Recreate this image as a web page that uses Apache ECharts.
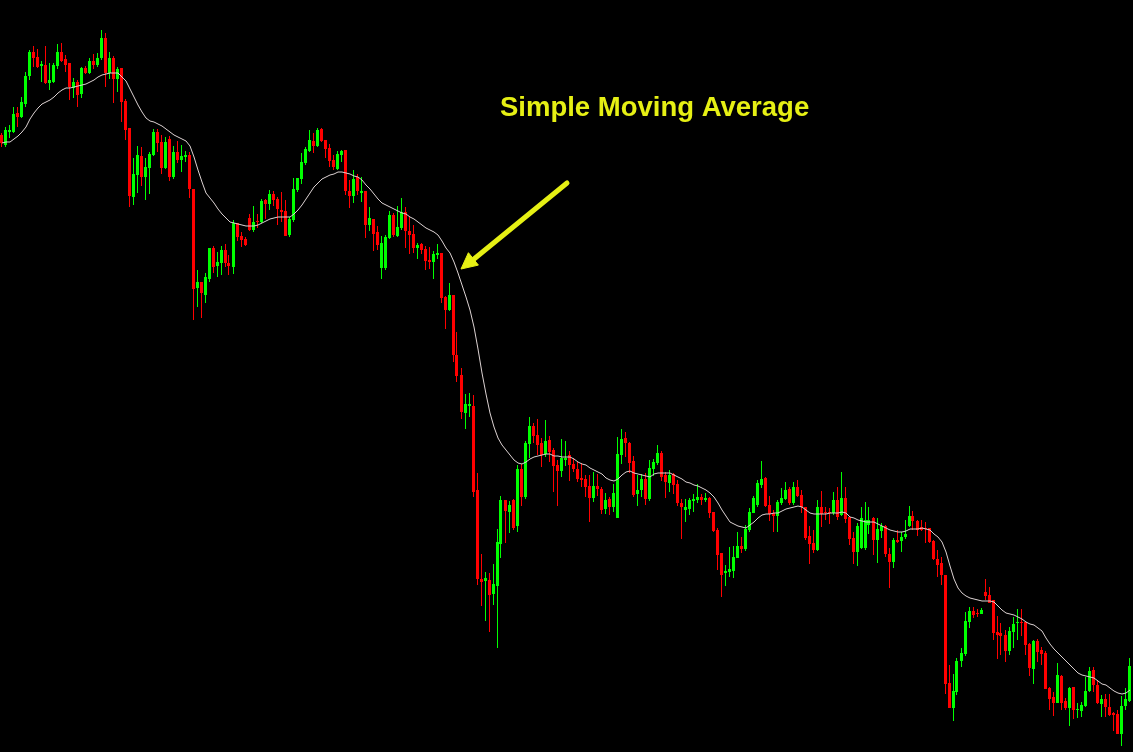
<!DOCTYPE html>
<html><head><meta charset="utf-8">
<script src="https://cdn.jsdelivr.net/npm/echarts@6/dist/echarts.min.js"></script>
<style>html,body{margin:0;padding:0;background:#000;}#c{width:1133px;height:752px;}</style>
</head><body><div id="c"></div>
<script>
const opens = [865,855,868,868,887,883,896,924,948,943,934,935,917,918,934,948,941,937,912,918,906,932,927,939,935,942,962,927,942,921,932,899,872,803,825,844,823,832,845,868,858,832,861,823,848,840,843,845,811,712,718,705,721,752,734,737,750,737,733,777,764,761,782,770,779,778,800,796,806,801,790,789,765,780,810,821,837,849,859,854,871,860,852,840,831,845,850,809,804,823,807,809,775,781,768,732,732,762,785,764,772,788,769,766,752,756,751,740,738,745,747,703,690,705,645,625,587,594,594,510,421,419,420,406,414,456,500,488,500,474,531,503,556,574,565,557,546,560,550,535,529,540,545,536,531,522,521,514,502,514,511,491,501,493,482,545,562,557,539,506,510,521,501,531,537,547,525,517,526,516,497,490,491,499,500,503,500,502,488,470,447,427,428,429,442,454,451,470,487,495,515,522,495,487,484,497,501,511,497,513,505,493,464,457,450,493,488,488,487,500,485,502,483,462,448,452,452,475,482,460,469,474,446,438,460,459,463,474,484,479,473,472,472,459,441,437,425,317,292,308,339,346,378,389,387,386,408,405,400,368,367,365,349,368,377,378,378,356,331,359,350,347,312,303,297,324,299,292,313,290,289,294,309,330,315,296,301,293,287,286,266,294,299];
const closes = [857,870,870,886,883,898,924,948,942,933,936,917,920,935,948,939,935,913,918,905,932,927,939,935,942,962,927,942,921,931,898,870,804,826,845,823,833,846,868,857,832,858,823,848,840,844,845,811,711,718,707,723,752,733,738,750,737,734,777,763,760,755,770,778,778,799,796,806,800,791,788,764,781,811,822,838,851,860,854,870,859,851,839,833,846,849,809,804,821,809,809,775,782,766,755,757,763,785,765,773,788,769,765,752,755,750,739,738,746,747,702,690,705,645,624,588,596,596,508,421,418,422,405,416,458,500,489,495,472,531,503,557,574,564,555,545,559,548,534,529,542,542,535,531,521,520,513,502,514,511,490,500,493,507,546,561,557,537,505,510,521,501,532,538,547,523,518,525,515,497,493,493,500,501,503,500,502,487,469,445,425,429,431,443,454,451,471,488,502,517,521,494,486,484,498,502,510,497,513,504,493,462,456,450,493,486,487,487,500,483,502,481,461,448,474,482,480,480,460,471,474,446,438,460,458,463,466,484,479,470,470,471,458,441,435,425,316,292,309,339,347,379,389,385,386,390,404,397,367,365,364,349,369,376,378,377,355,332,359,348,346,311,301,297,325,297,292,312,290,291,295,309,329,315,297,301,293,285,285,266,294,301,334];
const lows = [853,853,862,867,873,882,893,920,933,932,918,916,910,917,931,938,928,900,902,893,902,926,926,931,933,940,913,921,897,908,878,860,793,795,807,814,800,806,844,848,826,831,819,821,837,828,838,802,680,693,682,697,718,727,723,725,733,725,726,759,753,754,769,768,772,777,781,790,794,775,778,764,763,778,808,816,835,848,847,853,858,842,833,830,830,838,805,792,797,805,798,762,769,749,750,721,730,761,763,763,770,752,746,747,741,746,730,731,721,741,697,671,689,638,618,581,571,583,503,415,394,379,368,395,352,442,457,467,470,468,494,501,542,557,545,533,543,538,508,494,523,534,519,528,518,513,503,478,498,504,486,486,485,488,482,536,543,527,503,494,503,495,499,524,535,519,502,508,506,494,461,478,485,488,497,495,498,482,468,430,403,414,423,422,442,447,449,468,487,493,512,493,479,468,468,495,500,495,495,503,487,460,436,447,449,473,480,476,485,480,484,477,455,436,434,451,450,466,445,437,462,443,412,432,457,448,461,473,470,464,469,457,457,440,423,415,306,292,279,305,333,344,372,382,383,386,400,397,360,341,345,338,345,352,360,364,345,324,316,338,335,311,290,284,297,290,290,274,281,282,283,293,308,308,296,283,283,284,269,266,254,290,298];
const highs = [867,873,875,893,893,903,928,950,954,951,939,954,937,937,956,957,945,937,922,920,933,934,942,946,947,970,967,948,944,933,932,901,872,842,854,853,842,848,871,871,865,863,864,854,859,855,849,848,811,730,718,727,752,754,748,754,756,745,780,777,768,763,786,794,786,801,801,810,809,803,808,800,783,822,822,847,853,870,867,872,872,860,856,845,849,850,850,820,830,826,823,809,793,781,774,764,765,789,787,794,802,793,783,775,757,757,754,753,749,756,747,704,717,705,668,632,606,607,605,527,446,428,427,436,471,504,500,499,501,535,536,559,583,577,581,562,580,564,552,540,561,559,549,542,538,537,525,525,528,526,513,507,503,516,563,571,568,558,544,525,526,527,540,541,555,549,528,530,527,520,501,501,502,506,516,506,507,503,488,472,447,435,453,454,468,463,475,492,504,520,539,523,504,490,500,512,518,513,518,520,510,493,474,470,500,509,493,492,508,513,528,513,483,468,477,493,498,493,483,482,477,475,452,462,470,468,480,494,489,480,480,478,472,460,450,443,425,335,326,342,352,388,393,393,391,392,421,413,400,384,377,370,373,383,391,391,378,357,360,361,353,349,313,308,337,325,302,313,313,297,298,323,333,333,320,305,306,306,288,290,304,312,342];
const ma = [857,858,858,861,864,868,873,881,887,892,896,898,900,903,907,910,912,912,913,914,915,916,918,920,923,925,926,927,927,927,923,919,911,903,895,888,882,879,878,876,874,871,868,865,863,861,859,854,843,830,818,807,802,797,791,786,782,778,777,776,775,774,774,774,775,777,779,781,782,783,783,783,783,786,790,795,801,807,813,817,821,823,825,826,828,828,827,826,824,823,820,815,811,806,801,797,795,793,791,789,787,786,783,781,778,775,772,770,768,765,759,752,747,738,727,715,703,690,673,651,627,606,587,573,562,555,550,545,540,537,536,538,541,543,544,545,546,546,544,544,543,543,543,541,538,536,535,532,530,528,526,522,520,519,521,525,528,529,527,526,525,524,523,526,527,527,527,527,525,523,521,518,517,515,514,512,510,507,503,497,490,484,478,476,474,473,472,475,478,482,485,486,486,487,487,489,491,492,493,494,493,490,487,486,486,486,486,487,487,487,488,487,483,482,480,479,478,478,478,476,474,472,470,469,468,468,469,471,471,471,472,471,470,466,463,458,448,434,421,412,407,404,402,401,400,399,399,399,398,394,390,387,386,385,383,381,378,376,375,372,369,362,356,351,347,343,339,335,331,327,325,324,323,322,319,316,315,312,309,307,306,307,310];
const categories = opens.map((_, i) => 'Bar ' + (i + 1));
const labelText = 'Simple Moving Average';

const candleRows = opens.map((o, i) => [i, o, closes[i], lows[i], highs[i]]);
const UP = '#00ff00', DOWN = '#ff0000', YEL = '#e6f014';

function renderCandle(params, api) {
  const idx = api.value(0);
  const o = api.value(1), c = api.value(2), l = api.value(3), h = api.value(4);
  const pO = api.coord([idx, o]), pC = api.coord([idx, c]);
  const pL = api.coord([idx, l]), pH = api.coord([idx, h]);
  const cx = Math.floor(pO[0]) - 0.5;
  const col = c >= o ? UP : DOWN;
  const top = Math.round(Math.min(pO[1], pC[1]));
  const bot = Math.round(Math.max(pO[1], pC[1]));
  const hi = Math.round(pH[1]), lo = Math.round(pL[1]);
  return {
    type: 'group',
    children: [
      {type: 'line', shape: {x1: cx, y1: hi, x2: cx, y2: lo}, style: {stroke: col, lineWidth: 1}},
      {type: 'rect', shape: {x: cx - 1.5, y: top, width: 3, height: Math.max(1, bot - top)}, style: {fill: col}}
    ]
  };
}

const chart = echarts.init(document.getElementById('c'), null, {renderer: 'canvas'});
chart.setOption({
  backgroundColor: '#000000',
  animation: false,
  grid: {left: 0, right: 1, top: 0, bottom: 0},
  xAxis: {type: 'category', data: categories, show: false, boundaryGap: true},
  yAxis: {type: 'value', min: 248, max: 1000, show: false, splitLine: {show: false}},
  series: [
    {
      type: 'custom', data: candleRows, renderItem: renderCandle,
      encode: {x: 0, y: [1, 2, 3, 4]}, z: 2
    },
    {
      type: 'line', data: ma, symbol: 'none', smooth: false,
      lineStyle: {color: '#dcd2d2', width: 1}, z: 3
    }
  ],
  graphic: [
    {type: 'text', left: 500, top: 94, style: {text: labelText, fill: YEL, font: 'bold 27.5px "Liberation Sans", Arial, sans-serif'}},
    {type: 'line', shape: {x1: 567, y1: 183, x2: 474, y2: 259}, style: {stroke: YEL, lineWidth: 5, lineCap: 'round'}},
    {type: 'polygon', shape: {points: [[461, 269], [478.4, 265.1], [468.4, 252.7]]}, style: {fill: YEL, stroke: YEL, lineWidth: 1, lineJoin: 'round'}}
  ]
});
</script></body></html>
